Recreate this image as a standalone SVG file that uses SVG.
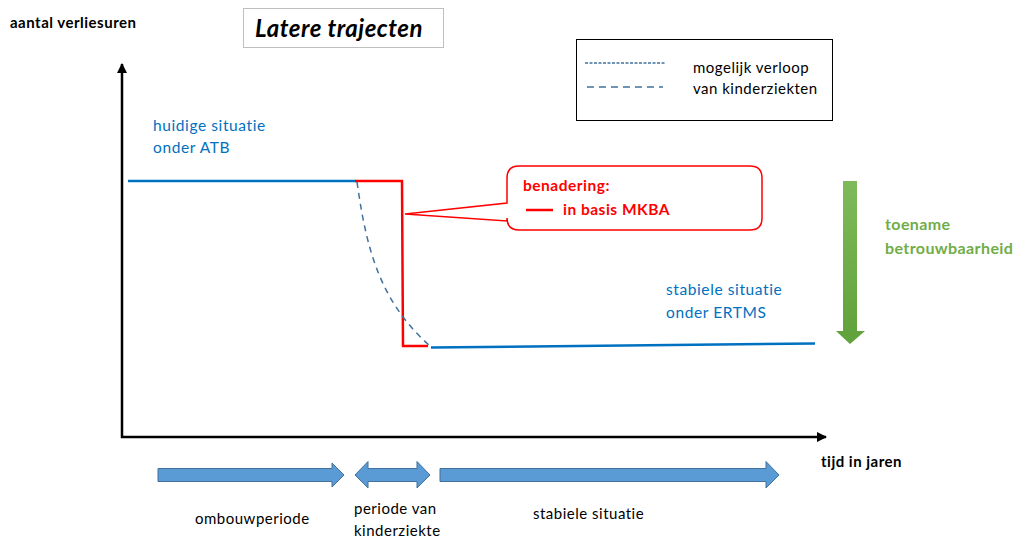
<svg xmlns="http://www.w3.org/2000/svg" width="1021" height="538" viewBox="0 0 1021 538">
<style>
text{font-family:Lato,"Open Sans","Liberation Sans",sans-serif}
.blk{fill:#000;font-weight:bold;font-size:15px;letter-spacing:0.5px}
.blue{fill:#0070C0;font-size:15.5px;letter-spacing:0.6px}
.lab{fill:#000;font-size:15px;letter-spacing:0.5px}
.red{fill:#FF0000;font-weight:bold;font-size:15.5px;letter-spacing:0.5px}
.grn{fill:#70AD47;font-weight:bold;font-size:16px;letter-spacing:0.4px}
.barrow{fill:#5B9BD5;stroke:#41719C;stroke-width:1}
</style>
<defs>
<marker id="ah" markerWidth="10" markerHeight="10" refX="9" refY="5" orient="auto" markerUnits="userSpaceOnUse">
<path d="M0,0 L10,5 L0,10 Z" fill="#000"/>
</marker>
<linearGradient id="gg" x1="0" y1="0" x2="0" y2="1">
<stop offset="0" stop-color="#7FBA5A"/>
<stop offset="1" stop-color="#5FA13A"/>
</linearGradient>
</defs>
<rect width="1021" height="538" fill="#fff"/>

<g id="title">
<rect x="243.5" y="8.5" width="200" height="39" fill="#fff" stroke="#BFBFBF" stroke-width="1"/>
<text x="255" y="37" style="font-size:24px;font-style:italic;font-weight:bold;letter-spacing:0.5px" fill="#000">Latere trajecten</text>
</g>

<g id="yaxis-label"><text class="blk" x="10" y="28">aantal verliesuren</text></g>

<g id="axes">
<line x1="122" y1="438" x2="122" y2="64" stroke="#000" stroke-width="2.5" marker-end="url(#ah)"/>
<line x1="121" y1="437" x2="826" y2="437" stroke="#000" stroke-width="2.5" marker-end="url(#ah)"/>
</g>

<g id="legend">
<rect x="576.5" y="39.5" width="256" height="81" fill="#fff" stroke="#000" stroke-width="1"/>
<line x1="585" y1="63" x2="665" y2="63" stroke="#41719C" stroke-width="1.5" stroke-dasharray="3,1.5"/>
<line x1="587" y1="87" x2="663" y2="87" stroke="#41719C" stroke-width="1.5" stroke-dasharray="7,5"/>
<text class="lab" x="693" y="73">mogelijk verloop</text>
<text class="lab" x="693" y="94">van kinderziekten</text>
</g>

<g id="atb"><text class="blue" x="153" y="131">huidige situatie</text><text class="blue" x="153" y="153">onder ATB</text></g>
<g id="ertms"><text class="blue" x="666" y="295">stabiele situatie</text><text class="blue" x="666" y="318">onder ERTMS</text></g>

<g id="connectors">
<line x1="128" y1="181" x2="356" y2="181" stroke="#0070C0" stroke-width="2.5"/>
<line x1="431" y1="347.5" x2="815" y2="343.5" stroke="#0070C0" stroke-width="2.5"/>
<path d="M355,181 L402,181 L403,346 L428,346" fill="none" stroke="#FF0000" stroke-width="2.5"/>
<path d="M357,182 C366,245 378,300 430,346" fill="none" stroke="#41719C" stroke-width="1.5" stroke-dasharray="6,5"/>
</g>

<g id="callout">
<path d="M519,166 H750 Q762,166 762,178 V218 Q762,230 750,230 H519 Q507,230 507,218 V221 L405,214 L507,203 V178 Q507,166 519,166 Z" fill="#fff" stroke="#FF0000" stroke-width="1.5"/>
<text class="red" x="523" y="191">benadering:</text>
<line x1="526" y1="210" x2="553" y2="210" stroke="#FF0000" stroke-width="2.5"/>
<text class="red" x="563" y="215">in basis MKBA</text>
</g>

<g id="reliability">
<path d="M843,181 H857 V331 H865 L850,344 L836,331 H843 Z" fill="url(#gg)"/>
<text class="grn" x="885" y="230">toename</text>
<text class="grn" x="885" y="254">betrouwbaarheid</text>
</g>

<g id="xaxis-label"><text class="blk" x="821" y="467">tijd in jaren</text></g>

<g id="periods">
<path class="barrow" d="M158,468.5 H332 V463 L344,475 L332,487 V481.5 H158 Z"/>
<path class="barrow" d="M355,475 L368,461.5 V468.5 H417 V461.5 L430,475 L417,488 V481.5 H368 V488 Z"/>
<path class="barrow" d="M440,468.5 H766 V461.5 L779,475 L766,488 V481.5 H440 Z"/>
<text class="lab" x="195" y="524">ombouwperiode</text>
<text class="lab" x="354" y="514">periode van</text>
<text class="lab" x="354" y="536">kinderziekte</text>
<text class="lab" x="533" y="519">stabiele situatie</text>
</g>
</svg>
